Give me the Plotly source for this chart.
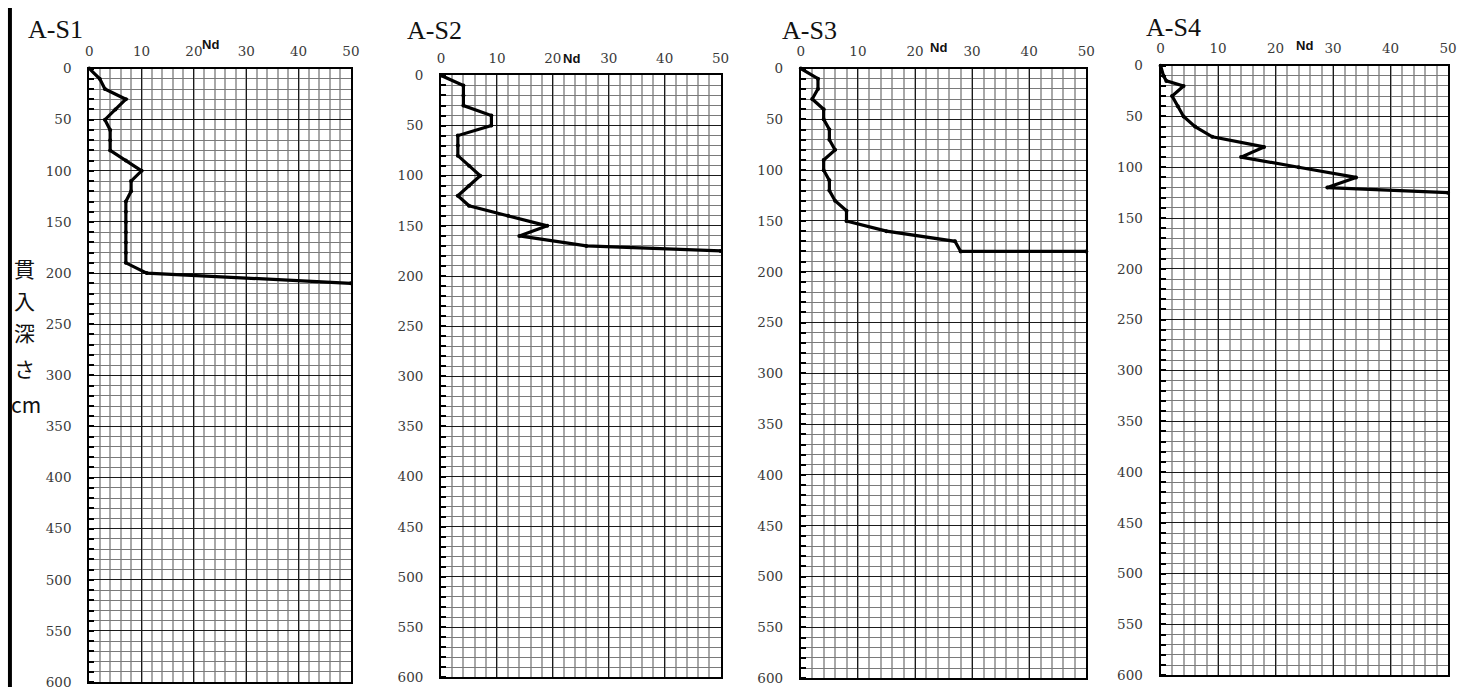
import plotly.graph_objects as go

# ---------------- data ----------------
PANEL_NAMES = ["A-S1", "A-S2", "A-S3", "A-S4"]

DEPTH_S1 = [0, 10, 20, 30, 40, 50, 60, 70, 80, 90, 100, 110, 120, 130, 140, 150, 160, 170, 180, 190, 200, 210]
ND_S1 = [0, 2, 3, 7, 5, 3, 4, 4, 4, 7, 10, 8, 8, 7, 7, 7, 7, 7, 7, 7, 11, 50]

DEPTH_S2 = [0, 10, 20, 30, 40, 50, 60, 70, 80, 90, 100, 110, 120, 130, 140, 150, 160, 170, 175]
ND_S2 = [0, 4, 4, 4, 9, 9, 3, 3, 3, 5, 7, 5, 3, 5, 12, 19, 14, 26, 50]

DEPTH_S3 = [0, 10, 20, 30, 40, 50, 60, 70, 80, 90, 100, 110, 120, 130, 140, 150, 160, 170, 180, 180]
ND_S3 = [0, 3, 3, 2, 4, 4, 5, 5, 6, 4, 4, 5, 5, 6, 8, 8, 15, 27, 28, 50]

DEPTH_S4 = [0, 10, 15, 20, 30, 40, 50, 60, 70, 80, 90, 100, 110, 120, 125]
ND_S4 = [0, 0.5, 1, 4, 2, 3, 4, 6, 9, 18, 14, 24, 34, 29, 50]

X_TICKS = [0, 10, 20, 30, 40, 50]
Y_TICKS = [0, 50, 100, 150, 200, 250, 300, 350, 400, 450, 500, 550, 600]
X_AXIS_TITLE = "Nd"
Y_AXIS_TITLE_CHARS = ["貫", "入", "深", "さ", "cm"]

SERIES = [(DEPTH_S1, ND_S1), (DEPTH_S2, ND_S2), (DEPTH_S3, ND_S3), (DEPTH_S4, ND_S4)]

# ---------------- layout geometry (pixels) ----------------
W, H = 1459, 695
# plot-area boxes: (left, right, top, bottom)
BOXES = [(86, 350, 62, 690), (441, 723, 69, 685), (804, 1092, 62, 686), (1167, 1457, 59, 683)]
TITLE_POS = [(22, 22), (405, 23), (783, 23), (1150, 20)]
ND_POS = [(208, 37), (573, 52), (943, 40), (1312, 38)]
YT_POS = [(21, 266), (21, 299), (21, 332), (21, 368), (22, 405)]

def fx(px):
    return px / W

def fy(py):
    return 1 - py / H

fig = go.Figure()
layout = dict(
    width=W, height=H,
    margin=dict(l=0, r=0, t=0, b=0),
    paper_bgcolor="white", plot_bgcolor="white",
    showlegend=False,
    font=dict(family="DejaVu Serif", size=12, color="#333333"),
)
annotations = []
shapes = []

tick_font = dict(family="DejaVu Serif", size=13.5, color="#3a3a3a")

for i, ((depth, nd), box, name) in enumerate(zip(SERIES, BOXES, PANEL_NAMES)):
    k = "" if i == 0 else str(i + 1)
    l, r, t, b = box
    fig.add_trace(go.Scatter(
        x=nd, y=depth, mode="lines+markers",
        xaxis="x" + k, yaxis="y" + k,
        line=dict(color="black", width=3.2),
        marker=dict(color="black", size=4),
        cliponaxis=False,
        hoverinfo="x+y",
    ))
    layout["xaxis" + k] = dict(
        domain=[fx(l), fx(r)], anchor="y" + k, side="top",
        range=[0, 50], tickvals=X_TICKS, ticktext=[str(v) for v in X_TICKS],
        showgrid=True, gridcolor="#1a1a1a", gridwidth=1,
        minor=dict(dtick=2, tick0=0, showgrid=True, gridcolor="#a8a8a8", gridwidth=1.5),
        showline=True, linecolor="black", linewidth=2, mirror=True,
        ticks="", tickfont=tick_font, ticklabelstandoff=5,
        zeroline=False, fixedrange=True,
    )
    layout["yaxis" + k] = dict(
        domain=[fy(b), fy(t)], anchor="x" + k,
        range=[600, 0], tickvals=Y_TICKS, ticktext=[str(v) for v in Y_TICKS],
        showgrid=True, gridcolor="#1a1a1a", gridwidth=1,
        minor=dict(dtick=10, tick0=0, showgrid=True, gridcolor="#7a7a7a", gridwidth=1,
                   ticks="inside", ticklen=5, tickcolor="black", tickwidth=2),
        showline=True, linecolor="black", linewidth=2, mirror=True,
        ticks="", tickfont=tick_font, ticklabelstandoff=13,
        zeroline=False, fixedrange=True,
    )
    tx, ty = TITLE_POS[i]
    annotations.append(dict(
        x=fx(tx), y=fy(ty), xref="paper", yref="paper", xanchor="left", yanchor="middle",
        text=name, showarrow=False,
        font=dict(family="Liberation Serif", size=26, color="#111111"),
    ))
    nx, ny = ND_POS[i]
    annotations.append(dict(
        x=fx(nx), y=fy(ny), xref="paper", yref="paper", xanchor="center", yanchor="middle",
        text="<b>" + X_AXIS_TITLE + "</b>", showarrow=False,
        font=dict(family="Liberation Sans", size=13, color="#111111"),
    ))

for ch, (cx, cy) in zip(Y_AXIS_TITLE_CHARS, YT_POS):
    annotations.append(dict(
        x=fx(cx), y=fy(cy), xref="paper", yref="paper", xanchor="center", yanchor="middle",
        text=ch, showarrow=False,
        font=dict(family="Noto Sans CJK JP", size=21, color="#111111"),
    ))

# thick black bar at left edge
shapes.append(dict(type="rect", xref="paper", yref="paper",
                   x0=fx(4), x1=fx(8), y0=0, y1=1,
                   fillcolor="black", line=dict(width=0), layer="above"))

layout["annotations"] = annotations
layout["shapes"] = shapes
fig.update_layout(**layout)

fig.write_html("out.html")
